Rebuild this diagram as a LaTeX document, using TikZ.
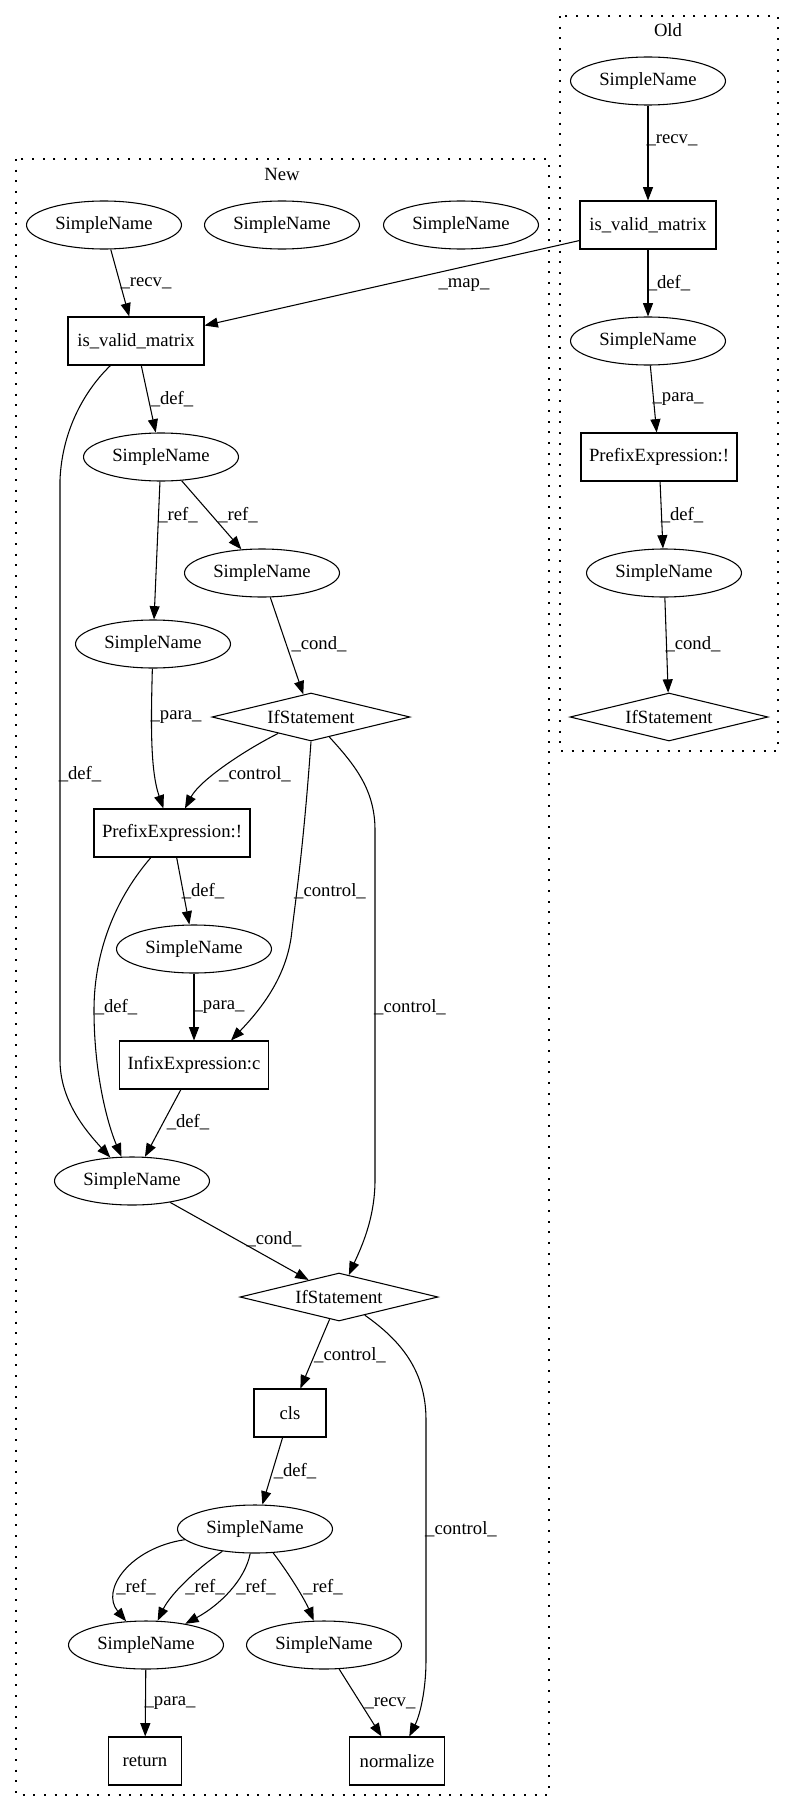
\documentclass[tikz,border=0pt]{standalone}
\usepackage{fontspec}
\setmainfont{Liberation Serif}
\usetikzlibrary{shapes.geometric,arrows.meta}
\begin{document}
\begin{tikzpicture}[x=0.75pt,y=-0.75pt,
  every node/.style={font=\fontsize{14}{16}\selectfont, inner sep=0pt},
  en/.style={draw, line width=0.8pt, ellipse, minimum width=116.25pt, minimum height=36pt},
  bx/.style={draw, line width=0.8pt, rectangle, minimum height=36pt},
  dm/.style={draw, line width=0.8pt, diamond, aspect=4.125, minimum width=148.5pt, minimum height=36pt},
  edge/.style={line width=0.8pt, -{Triangle[length=10pt,width=7.5pt]}},
  cluster/.style={line width=0.9pt, dash pattern=on 1.5pt off 6.5pt}
]
\useasboundingbox (0,0) rectangle (795,1812);
% clusters
\draw[cluster] (16,159) rectangle (549,1795);
\draw[cluster] (560,16) rectangle (778,751);
\node (tOld) at (668,30) {Old};
\node (tNew) at (282,174) {New};
% Old nodes
\node[en] (O1) at (648,81) {SimpleName};
\node[bx, minimum width=102pt] (O2) at (648,225) {is\_valid\_matrix};
\node[en] (O3) at (648,341) {SimpleName};
\node[bx, minimum width=117pt] (O4) at (659,457) {PrefixExpression:!};
\node[en] (O5) at (664,573) {SimpleName};
\node[dm] (O6) at (669,717) {IfStatement};
% New nodes
\node[en] (N1) at (104,225) {SimpleName};
\node[en] (N2) at (282,225) {SimpleName};
\node[en] (N3) at (461,225) {SimpleName};
\node[bx, minimum width=102pt] (N4) at (136,341) {is\_valid\_matrix};
\node[en] (N5) at (161,457) {SimpleName};
\node[en] (N6) at (262,573) {SimpleName};
\node[en] (N7) at (153,644) {SimpleName};
\node[dm] (N8) at (311,717) {IfStatement};
\node[bx, minimum width=117pt] (N9) at (172,833) {PrefixExpression:!};
\node[en] (N10) at (194,949) {SimpleName};
\node[bx, minimum width=111.75pt] (N11) at (194,1065) {InfixExpression:c};
\node[en] (N12) at (132,1181) {SimpleName};
\node[dm] (N13) at (339,1297) {IfStatement};
\node[bx, minimum width=54pt] (N14) at (290,1413) {cls};
\node[en] (N15) at (255,1529) {SimpleName};
\node[en] (N16) at (146,1645) {SimpleName};
\node[en] (N17) at (324,1645) {SimpleName};
\node[bx, minimum width=54.75pt] (N18) at (145,1761) {return};
\node[bx, minimum width=71.25pt] (N19) at (397,1761) {normalize};
% Old edges
\draw[edge] (O1) -- (O2);
\draw[edge] (O2) -- (O3);
\draw[edge] (O3) -- (O4);
\draw[edge] (O4) -- (O5);
\draw[edge] (O5) -- (O6);
\draw[edge] (O2) -- (N4);
% New edges
\draw[edge] (N1) -- (N4);
\draw[edge] (N4) -- (N5);
\draw[edge] (N5) -- (N7);
\draw[edge] (N5) -- (N6);
\draw[edge] (N6) -- (N8);
\draw[edge] (N7) .. controls (151,720) and (150,770) .. (N9);
\draw[edge] (N8) .. controls (245,750) and (200,780) .. (N9);
\draw[edge] (N4) .. controls (85,390) and (62,430) .. (60,480) -- (60,1060) .. controls (60,1100) and (85,1130) .. (N12);
\draw[edge] (N9) .. controls (110,905) and (94,960) .. (94,1010) .. controls (94,1080) and (110,1130) .. (N12);
\draw[edge] (N8.south) .. controls (304,840) and (297,890) .. (292,930) .. controls (288,975) and (262,1008) .. ([xshift=27.75pt]N11.north);
\draw[edge] (N8) .. controls (355,765) and (375,790) .. (375,830) -- (375,1180) .. controls (375,1220) and (360,1250) .. (N13);
\draw[edge] (N9) -- (N10);
\draw[edge] (N10) -- (N11);
\draw[edge] (N11) -- (N12);
\draw[edge] (N12) -- (N13);
\draw[edge] (N13) -- (N14);
\draw[edge] (N13) .. controls (400,1340) and (426,1370) .. (426,1420) -- (426,1660) .. controls (426,1690) and (420,1715) .. (N19);
\draw[edge] (N14) -- (N15);
\draw[edge] (N15) .. controls (130,1548) and (100,1590) .. (N16);
\draw[edge] (N15) .. controls (195,1570) and (170,1595) .. (N16);
\draw[edge] (N15) .. controls (245,1580) and (220,1605) .. (N16);
\draw[edge] (N15) .. controls (290,1575) and (305,1600) .. (N17);
\draw[edge] (N16) -- (N18);
\draw[edge] (N17) -- (N19);
% labels
\node (l1) at (672,140) {\_recv\_};
\node (l2) at (669,283) {\_def\_};
\node (l3) at (678,399) {\_para\_};
\node (l4) at (682,515) {\_def\_};
\node (l5) at (693,644) {\_cond\_};
\node (l6) at (464,285) {\_map\_};
\node (l7) at (146,283) {\_recv\_};
\node (l8) at (172,399) {\_def\_};
\node (l9) at (178,515) {\_ref\_};
\node (l10) at (238,515) {\_ref\_};
\node (l11) at (319,644) {\_cond\_};
\node (l12) at (176,717) {\_para\_};
\node (l13) at (255,774) {\_control\_};
\node (l14) at (80,774) {\_def\_};
\node (l15) at (330,891) {\_control\_};
\node (l16) at (203,891) {\_def\_};
\node (l17) at (219,1007) {\_para\_};
\node (l18) at (116,1007) {\_def\_};
\node (l19) at (410,1007) {\_control\_};
\node (l20) at (188,1122) {\_def\_};
\node (l21) at (274,1239) {\_cond\_};
\node (l22) at (350,1355) {\_control\_};
\node (l23) at (461,1529) {\_control\_};
\node (l24) at (295,1471) {\_def\_};
\node (l25) at (136,1587) {\_ref\_};
\node (l26) at (205,1587) {\_ref\_};
\node (l27) at (256,1587) {\_ref\_};
\node (l28) at (323,1587) {\_ref\_};
\node (l29) at (170,1703) {\_para\_};
\node (l30) at (390,1703) {\_recv\_};
\end{tikzpicture}
\end{document}
